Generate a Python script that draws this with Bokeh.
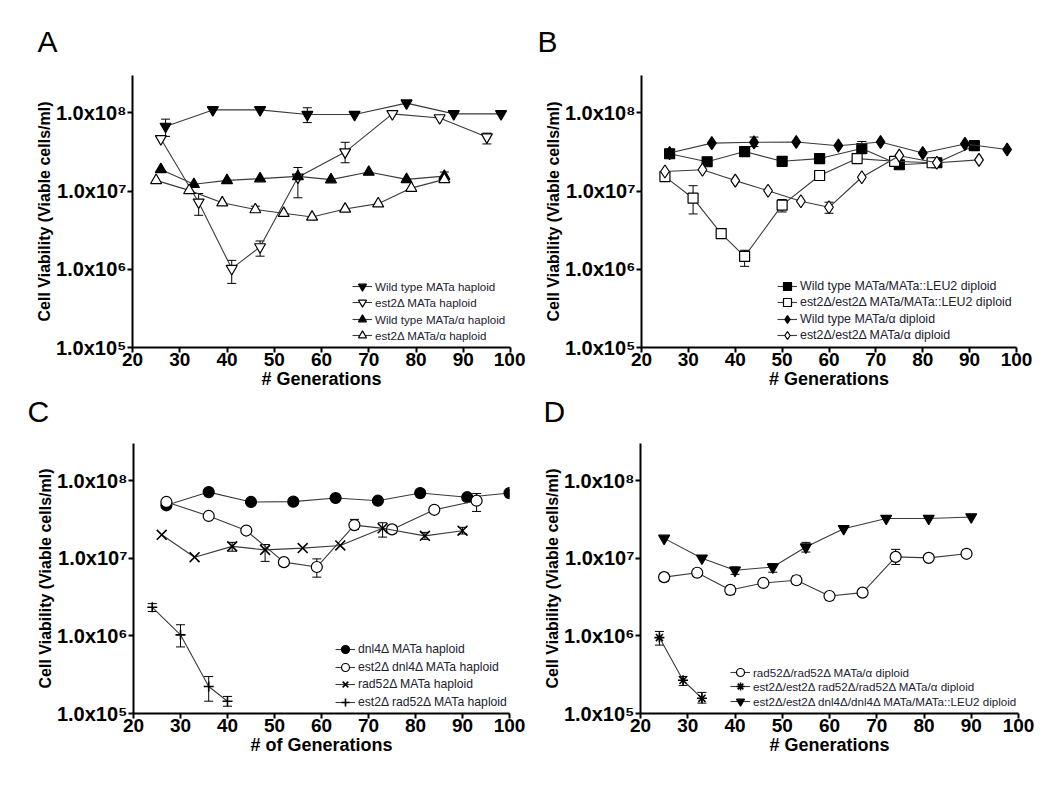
from bokeh.plotting import figure
from bokeh.models import (FixedTicker, Whisker, TeeHead, ColumnDataSource,
                          Legend, LegendItem, Range1d, Title)
from bokeh.layouts import column, row
from bokeh.embed import file_html
from bokeh.resources import INLINE

# ---------------- data ----------------
# Panel A
a_wt_x = [27, 37, 47, 57, 67, 78, 88, 98]
a_wt_y = [6.7e7, 1.09e8, 1.09e8, 9.5e7, 9.5e7, 1.33e8, 9.7e7, 9.7e7]
a_wt_ex = [27, 57]
a_wt_lo = [5.0e7, 7.5e7]
a_wt_hi = [8.3e7, 1.16e8]

a_est2_x = [26, 34, 41, 47, 55, 65, 75, 85, 95]
a_est2_y = [4.65e7, 7.2e6, 1.02e6, 1.93e6, 1.5e7, 3.15e7, 9.7e7, 8.6e7, 4.9e7]
a_est2_ex = [34, 41, 47, 55, 65, 95]
a_est2_lo = [4.9e6, 6.6e5, 1.47e6, 8.2e6, 2.3e7, 4.0e7]
a_est2_hi = [9.3e6, 1.3e6, 2.3e6, 2.0e7, 4.2e7, 5.5e7]

a_wta_x = [26, 33, 40, 47, 55, 62, 70, 78, 86]
a_wta_y = [1.89e7, 1.22e7, 1.37e7, 1.44e7, 1.54e7, 1.40e7, 1.75e7, 1.41e7, 1.55e7]
a_wta_ex = [86]
a_wta_lo = [1.4e7]
a_wta_hi = [1.75e7]

a_esta_x = [25, 32, 39, 46, 52, 58, 65, 72, 79, 86]
a_esta_y = [1.37e7, 1.02e7, 7.1e6, 5.8e6, 5.2e6, 4.66e6, 5.9e6, 6.9e6, 1.09e7, 1.41e7]
a_esta_ex = [46]
a_esta_lo = [5.4e6]
a_esta_hi = [6.4e6]

# Panel B
b_wt_x = [26, 34, 42, 50, 58, 67, 75, 83, 91]
b_wt_y = [3.0e7, 2.37e7, 3.2e7, 2.4e7, 2.6e7, 3.5e7, 2.17e7, 2.3e7, 3.8e7]
b_wt_ex = [67]
b_wt_lo = [3.0e7]
b_wt_hi = [4.3e7]

b_est2_x = [25, 31, 37, 42, 50, 58, 66, 74, 82]
b_est2_y = [1.53e7, 8.1e6, 2.86e6, 1.46e6, 6.6e6, 1.58e7, 2.6e7, 2.4e7, 2.3e7]
b_est2_ex = [31, 37, 42, 50]
b_est2_lo = [5.1e6, 2.6e6, 1.09e6, 5.4e6]
b_est2_hi = [1.17e7, 3.1e6, 1.75e6, 7.8e6]

b_wta_x = [26, 35, 44, 53, 62, 71, 80, 89, 98]
b_wta_y = [3.06e7, 4.1e7, 4.2e7, 4.24e7, 3.8e7, 4.24e7, 3.06e7, 4.0e7, 3.4e7]
b_wta_ex = [44]
b_wta_lo = [3.7e7]
b_wta_hi = [4.9e7]

b_esta_x = [25, 33, 40, 47, 54, 60, 67, 75, 83, 92]
b_esta_y = [1.78e7, 1.87e7, 1.36e7, 1.01e7, 7.4e6, 6.2e6, 1.5e7, 2.83e7, 2.3e7, 2.5e7]
b_esta_ex = [60]
b_esta_lo = [5.2e6]
b_esta_hi = [7.2e6]

# Panel C
c_dnl_x = [27, 36, 45, 54, 63, 72, 81, 91, 100]
c_dnl_y = [4.8e7, 7.1e7, 5.3e7, 5.35e7, 5.96e7, 5.5e7, 6.9e7, 6.1e7, 6.9e7]
c_dnl_ex = [100]
c_dnl_lo = [6.2e7]
c_dnl_hi = [7.6e7]

c_ed_x = [27, 36, 44, 52, 59, 67, 75, 84, 93]
c_ed_y = [5.3e7, 3.5e7, 2.27e7, 8.9e6, 7.7e6, 2.67e7, 2.35e7, 4.2e7, 5.5e7]
c_ed_ex = [59, 67, 75, 84, 93]
c_ed_lo = [5.7e6, 2.35e7, 2.1e7, 3.8e7, 4.0e7]
c_ed_hi = [9.8e6, 3.16e7, 2.65e7, 4.6e7, 6.8e7]

c_rad_x = [26, 33, 41, 48, 56, 64, 73, 82, 90]
c_rad_y = [2.0e7, 1.03e7, 1.42e7, 1.28e7, 1.35e7, 1.46e7, 2.43e7, 1.94e7, 2.26e7]
c_rad_ex = [41, 48, 73, 82, 90]
c_rad_lo = [1.23e7, 9.1e6, 1.87e7, 1.75e7, 2.05e7]
c_rad_hi = [1.6e7, 1.5e7, 2.86e7, 2.15e7, 2.5e7]

c_er_x = [24, 30, 36, 40]
c_er_y = [2.33e6, 1.03e6, 2.23e5, 1.44e5]
c_er_ex = [24, 30, 36, 40]
c_er_lo = [2.06e6, 7.2e5, 1.44e5, 1.24e5]
c_er_hi = [2.6e6, 1.39e6, 2.99e5, 1.66e5]

# Panel D
d_rad_x = [25, 32, 39, 46, 53, 60, 67, 74, 81, 89]
d_rad_y = [5.7e6, 6.5e6, 3.9e6, 4.8e6, 5.2e6, 3.26e6, 3.6e6, 1.04e7, 1.01e7, 1.14e7]
d_rad_ex = [25, 32, 39, 46, 53, 60, 74, 89]
d_rad_lo = [5.0e6, 5.8e6, 3.4e6, 4.4e6, 4.6e6, 2.9e6, 8.3e6, 1.05e7]
d_rad_hi = [6.4e6, 7.2e6, 4.4e6, 5.3e6, 5.9e6, 3.6e6, 1.3e7, 1.25e7]

d_er_x = [24, 29, 33]
d_er_y = [9.5e5, 2.68e5, 1.57e5]
d_er_ex = [24, 29, 33]
d_er_lo = [7.6e5, 2.3e5, 1.36e5]
d_er_hi = [1.14e6, 3.0e5, 1.87e5]

d_ed_x = [25, 33, 40, 48, 55, 63, 72, 81, 90]
d_ed_y = [1.8e7, 1.0e7, 7.0e6, 7.7e6, 1.39e7, 2.4e7, 3.25e7, 3.25e7, 3.4e7]
d_ed_ex = [40, 48, 55]
d_ed_lo = [6.2e6, 6.6e6, 1.2e7]
d_ed_hi = [7.7e6, 8.5e6, 1.6e7]

x_ticks = [20, 30, 40, 50, 60, 70, 80, 90, 100]
y_ticks = [1e5, 1e6, 1e7, 1e8]
y_tick_labels = ["1.0x10\u2075", "1.0x10\u2076", "1.0x10\u2077", "1.0x10\u2078"]

FONT = "Liberation Sans"
LINE_COLOR = "#3a3a3a"


def series(x, y, ex, lo, hi, marker, fill, size, label):
    return dict(x=x, y=y, ex=ex, lo=lo, hi=hi, marker=marker, fill=fill,
                size=size, label=label)


def style_title(t, offset, standoff, valign):
    t.align = "left"
    t.offset = offset
    t.standoff = standoff
    t.vertical_align = valign
    t.text_font = FONT
    t.text_font_style = "normal"
    t.text_font_size = "30px"
    t.text_color = "black"


def panel(letter, letter_offset, letter_standoff, xlabel, items, w, h, borders,
          leg_x, leg_last_center, leg_pitch, leg_font, below_letter=None,
          below_offset=0):
    left, right, top, bottom = borders
    kw = {} if letter else {"title_location": None}
    p = figure(width=w, height=h, x_range=Range1d(20, 100),
               y_range=Range1d(1e5, 3e8), y_axis_type="log",
               output_backend="svg", toolbar_location=None,
               min_border_left=left, min_border_right=right,
               min_border_top=top, min_border_bottom=bottom, **kw)
    p.outline_line_color = None
    p.grid.visible = False
    p.background_fill_color = "white"
    p.border_fill_color = "white"

    if letter:
        p.title.text = letter
        style_title(p.title, letter_offset, letter_standoff, "bottom")

    for ax in (p.xaxis[0], p.yaxis[0]):
        ax.axis_line_width = 2
        ax.axis_line_color = "black"
        ax.major_tick_line_width = 2
        ax.major_tick_line_color = "black"
        ax.major_tick_in = 0
        ax.major_tick_out = 5
        ax.minor_tick_line_color = None
        ax.major_label_text_font = FONT
        ax.major_label_text_font_style = "bold"
        ax.major_label_text_color = "black"
        ax.axis_label_text_font = FONT
        ax.axis_label_text_font_style = "bold"
        ax.axis_label_text_color = "black"
        ax.axis_label_standoff = 0

    xa = p.xaxis[0]
    xa.ticker = FixedTicker(ticks=x_ticks)
    xa.major_label_text_font_size = "19px"
    xa.major_label_standoff = 0
    xa.axis_label = xlabel
    xa.axis_label_text_font_size = "18px"

    ya = p.yaxis[0]
    ya.ticker = FixedTicker(ticks=y_ticks)
    ya.major_label_overrides = {int(t): s for t, s in zip(y_ticks, y_tick_labels)}
    ya.major_label_text_font_size = "20px"
    ya.major_label_standoff = 1
    ya.axis_label = "Cell Viability (Viable cells/ml)"
    ya.axis_label_text_font_size = "16px"

    if below_letter:
        bt = Title(text=below_letter)
        style_title(bt, below_offset, 6, "top")
        p.add_layout(bt, "below")

    n = len(items)
    gh = 22
    for i, s in enumerate(items):
        lr = p.line(s["x"], s["y"], line_color=LINE_COLOR, line_width=1.1)
        src = ColumnDataSource(dict(x=s["ex"], lo=s["lo"], hi=s["hi"]))
        wk = Whisker(source=src, base="x", upper="hi", lower="lo",
                     line_color="black", line_width=1,
                     upper_head=TeeHead(size=9, line_color="black", line_width=1),
                     lower_head=TeeHead(size=9, line_color="black", line_width=1))
        p.add_layout(wk)
        lw = 1.6 if s["marker"] in ("x", "cross", "asterisk") else 1.2
        sr = p.scatter(s["x"], s["y"], marker=s["marker"], size=s["size"],
                       fill_color=s["fill"], line_color="black", line_width=lw)
        center = leg_last_center + (n - 1 - i) * leg_pitch
        leg = Legend(items=[LegendItem(label=s["label"], renderers=[lr, sr])],
                     location=(leg_x, int(round(center - gh / 2))),
                     padding=0, margin=0, spacing=0,
                     glyph_width=20, glyph_height=gh,
                     label_height=gh, label_standoff=3,
                     label_text_font=FONT, label_text_font_size=leg_font,
                     label_text_color="#222230",
                     background_fill_alpha=0, border_line_color=None)
        p.add_layout(leg)
    return p


TOP_H = 440
BOT_H = 788 - TOP_H

pA = panel("A", -95, 35, "# Generations", [
    series(a_wt_x, a_wt_y, a_wt_ex, a_wt_lo, a_wt_hi, "inverted_triangle", "black", 11,
           "Wild type MATa haploid"),
    series(a_est2_x, a_est2_y, a_est2_ex, a_est2_lo, a_est2_hi, "inverted_triangle", "white", 11,
           "est2\u0394 MATa haploid"),
    series(a_wta_x, a_wta_y, a_wta_ex, a_wta_lo, a_wta_hi, "triangle", "black", 11,
           "Wild type MATa/\u03b1 haploid"),
    series(a_esta_x, a_esta_y, a_esta_ex, a_esta_lo, a_esta_hi, "triangle", "white", 11,
           "est2\u0394 MATa/\u03b1 haploid"),
], 525, TOP_H, (132, 15, 75, TOP_H - 347), 220, 12, 16.3, "11.6px",
    below_letter="C", below_offset=-105)

pB = panel("B", -104, 35, "# Generations", [
    series(b_wt_x, b_wt_y, b_wt_ex, b_wt_lo, b_wt_hi, "square", "black", 10,
           "Wild type MATa/MATa::LEU2 diploid"),
    series(b_est2_x, b_est2_y, b_est2_ex, b_est2_lo, b_est2_hi, "square", "white", 10,
           "est2\u0394/est2\u0394 MATa/MATa::LEU2 diploid"),
    series(b_wta_x, b_wta_y, b_wta_ex, b_wta_lo, b_wta_hi, "diamond", "black", 13,
           "Wild type MATa/\u03b1 diploid"),
    series(b_esta_x, b_esta_y, b_esta_ex, b_esta_lo, b_esta_hi, "diamond", "white", 13,
           "est2\u0394/est2\u0394 MATa/\u03b1 diploid"),
], 525, TOP_H, (116, 34, 75, TOP_H - 347), 136, 12, 16.3, "12.4px",
    below_letter="D", below_offset=-98)

pC = panel(None, 0, 0, "# of Generations", [
    series(c_dnl_x, c_dnl_y, c_dnl_ex, c_dnl_lo, c_dnl_hi, "circle", "black", 11,
           "dnl4\u0394 MATa haploid"),
    series(c_ed_x, c_ed_y, c_ed_ex, c_ed_lo, c_ed_hi, "circle", "white", 11,
           "est2\u0394 dnl4\u0394 MATa haploid"),
    series(c_rad_x, c_rad_y, c_rad_ex, c_rad_lo, c_rad_hi, "x", "black", 14,
           "rad52\u0394 MATa haploid"),
    series(c_er_x, c_er_y, c_er_ex, c_er_lo, c_er_hi, "cross", "black", 10,
           "est2\u0394 rad52\u0394 MATa haploid"),
], 525, BOT_H, (133, 16, 443 - TOP_H, 72), 202, 11, 17.7, "12.2px")

pD = panel(None, 0, 0, "# Generations", [
    series(d_rad_x, d_rad_y, d_rad_ex, d_rad_lo, d_rad_hi, "circle", "white", 11,
           "rad52\u0394/rad52\u0394 MATa/\u03b1 diploid"),
    series(d_er_x, d_er_y, d_er_ex, d_er_lo, d_er_hi, "asterisk", "black", 10,
           "est2\u0394/est2\u0394 rad52\u0394/rad52\u0394 MATa/\u03b1 diploid"),
    series(d_ed_x, d_ed_y, d_ed_ex, d_ed_lo, d_ed_hi, "inverted_triangle", "black", 11,
           "est2\u0394/est2\u0394 dnl4\u0394/dnl4\u0394 MATa/MATa::LEU2 diploid"),
], 525, BOT_H, (115, 32, 443 - TOP_H, 75), 90, 12, 14.5, "11.6px")

layout = column(row(pA, pB), row(pC, pD))
open("out.html", "w").write(file_html(layout, INLINE))
